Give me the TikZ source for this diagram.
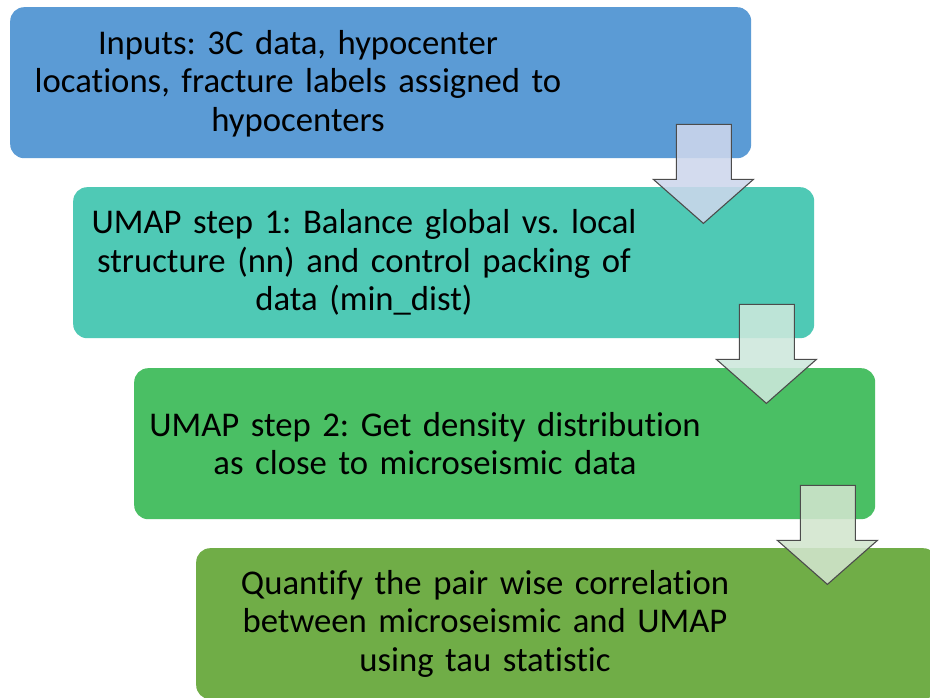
\documentclass[tikz,border=0pt]{standalone}
\usepackage{fontspec}
\setmainfont{Carlito}[Ligatures=NoCommon]
\usetikzlibrary{positioning}

\definecolor{inblue}{HTML}{5B9BD5}
\definecolor{umapteal}{HTML}{4FC9B5}
\definecolor{umapgreen}{HTML}{4ABF64}
\definecolor{tauolive}{HTML}{70AD47}
\definecolor{arrblue}{HTML}{CDD7EC}
\definecolor{arrteal}{HTML}{CDE8DC}
\definecolor{arrgreen}{HTML}{D2E5CE}

\tikzset{
  stepbox/.style={rounded corners=14pt, minimum width=741pt, minimum height=151pt,
                  inner sep=0pt, anchor=north west},
  steptext/.style={text width=600pt, align=center, font=\fontsize{34.7}{38.5}\selectfont},
  steparrow/.style={draw=black!70, line width=1.1pt, line join=miter, fill opacity=0.88}
}

\begin{document}
\frenchspacing
\begin{tikzpicture}[x=1pt,y=-1pt]
    \clip (0,0) rectangle (930,698);
    \fill[white] (0,0) rectangle (930,698);

    \node[stepbox,fill=inblue] (b1) at (10,7) {};
    \node[stepbox,fill=umapteal] (b2) at (73,187) {};
    \node[stepbox,fill=umapgreen] (b3) at (134,368) {};
    \node[stepbox,fill=tauolive] (b4) at (196,548) {};

    \node[steptext] (t1) at ([xshift=288pt,yshift=-1pt]b1.west)
        {Inputs: 3C data, hypocenter\\locations, fracture labels assigned to\\hypocenters};
    \node[steptext] (t2) at ([xshift=291pt]b2.west)
        {UMAP step 1: Balance global vs. local\\structure (nn) and control packing of\\data (min\_dist)};
    \node[steptext] (t3) at ([xshift=291pt]b3.west)
        {UMAP step 2: Get density distribution\\as close to microseismic data};
    \node[steptext] (t4) at ([xshift=289pt]b4.west)
        {Quantify the pair wise correlation\\between microseismic and UMAP\\using tau statistic};

    % block arrows hanging off the lower right corner of each step
    \foreach \a/\c in {b1/arrblue,b2/arrteal,b3/arrgreen}
    {
        \draw[steparrow,fill=\c,shift={(\a.south east)}]
            (-75,-34) -- (-20,-34) -- (-20,21) -- (2,21) -- (-48,65) -- (-98,21) -- (-75,21) -- cycle;
    }
\end{tikzpicture}
\end{document}
